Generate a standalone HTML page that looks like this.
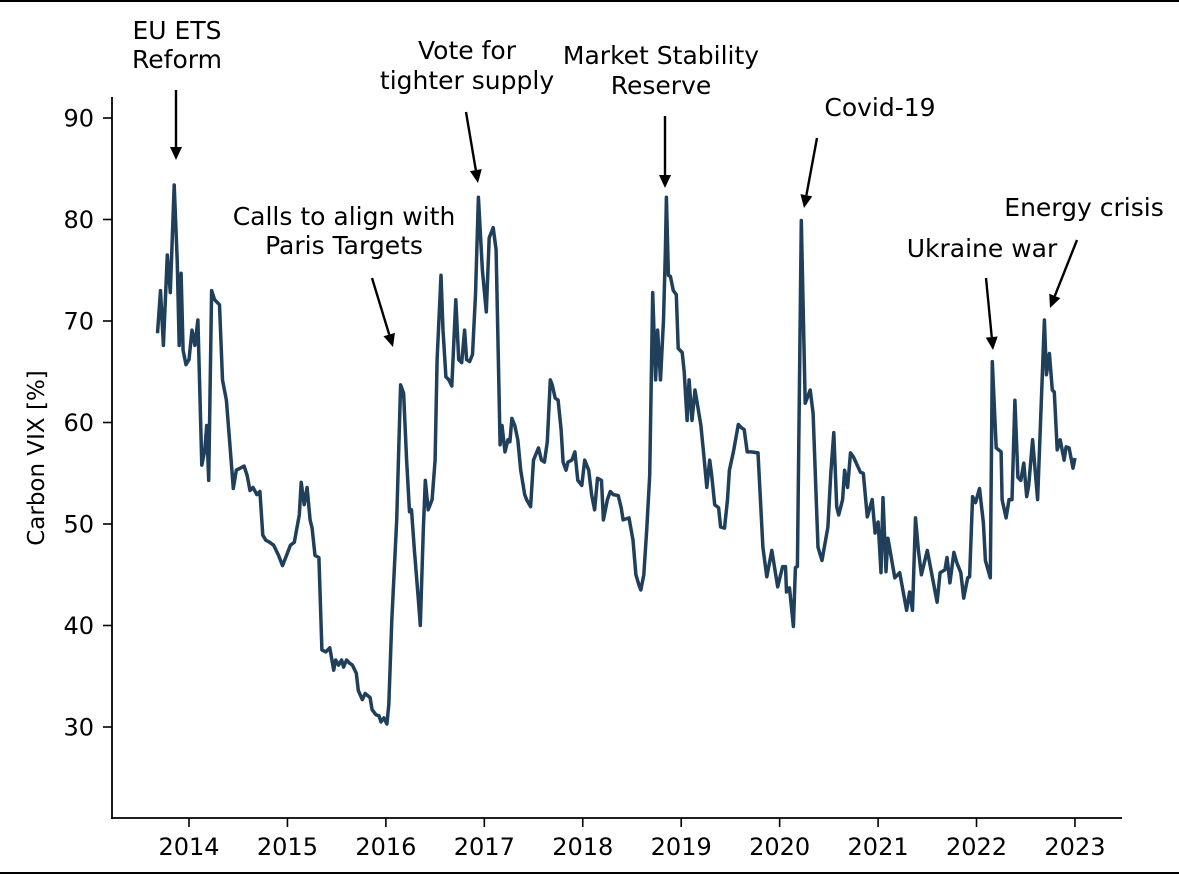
<!DOCTYPE html>
<html><head><meta charset="utf-8"><style>
html,body{margin:0;padding:0;background:#fff;}
svg{display:block;font-family:"DejaVu Sans","Liberation Sans",sans-serif;}
</style></head><body>
<svg id="chart" width="1179" height="875" viewBox="0 0 1179 875">
<line x1="0" y1="1" x2="1179" y2="1" stroke="#000" stroke-width="2"/>
<line x1="0" y1="873" x2="1179" y2="873" stroke="#000" stroke-width="2"/>
<g id="axes"></g>
<g id="series"></g>
<g id="annot"></g>
</svg>
<script>
const dates=[2013.68,2013.71,2013.74,2013.78,2013.81,2013.85,2013.88,2013.90,2013.92,2013.94,2013.97,2014.00,2014.03,2014.06,2014.09,2014.13,2014.16,2014.18,2014.20,2014.23,2014.26,2014.31,2014.34,2014.38,2014.42,2014.45,2014.48,2014.52,2014.56,2014.59,2014.62,2014.65,2014.69,2014.72,2014.75,2014.78,2014.82,2014.86,2014.91,2014.95,2014.99,2015.03,2015.07,2015.12,2015.14,2015.17,2015.20,2015.23,2015.25,2015.28,2015.32,2015.35,2015.39,2015.43,2015.47,2015.49,2015.52,2015.55,2015.57,2015.60,2015.63,2015.66,2015.70,2015.72,2015.76,2015.79,2015.84,2015.86,2015.90,2015.93,2015.95,2015.98,2016.01,2016.03,2016.06,2016.11,2016.15,2016.18,2016.21,2016.24,2016.26,2016.29,2016.33,2016.35,2016.38,2016.40,2016.43,2016.47,2016.50,2016.52,2016.56,2016.58,2016.61,2016.64,2016.67,2016.71,2016.74,2016.77,2016.80,2016.82,2016.85,2016.88,2016.91,2016.94,2016.98,2017.02,2017.05,2017.09,2017.12,2017.16,2017.18,2017.21,2017.24,2017.26,2017.28,2017.31,2017.34,2017.37,2017.41,2017.43,2017.47,2017.50,2017.55,2017.58,2017.61,2017.64,2017.67,2017.69,2017.72,2017.75,2017.78,2017.80,2017.83,2017.85,2017.89,2017.92,2017.95,2017.99,2018.02,2018.06,2018.09,2018.12,2018.15,2018.19,2018.21,2018.25,2018.28,2018.31,2018.36,2018.39,2018.41,2018.47,2018.51,2018.54,2018.57,2018.59,2018.62,2018.65,2018.68,2018.71,2018.74,2018.76,2018.79,2018.82,2018.84,2018.85,2018.87,2018.89,2018.92,2018.95,2018.97,2019.01,2019.03,2019.06,2019.08,2019.11,2019.14,2019.17,2019.20,2019.23,2019.26,2019.29,2019.31,2019.34,2019.38,2019.40,2019.44,2019.47,2019.49,2019.53,2019.58,2019.61,2019.64,2019.67,2019.71,2019.78,2019.83,2019.87,2019.92,2019.98,2020.03,2020.06,2020.07,2020.10,2020.14,2020.16,2020.18,2020.22,2020.26,2020.31,2020.34,2020.39,2020.43,2020.49,2020.52,2020.55,2020.58,2020.60,2020.64,2020.66,2020.69,2020.72,2020.75,2020.82,2020.85,2020.89,2020.94,2020.97,2021.00,2021.03,2021.05,2021.08,2021.10,2021.17,2021.22,2021.29,2021.32,2021.35,2021.38,2021.41,2021.44,2021.50,2021.60,2021.63,2021.68,2021.70,2021.73,2021.77,2021.80,2021.84,2021.87,2021.91,2021.93,2021.96,2021.99,2022.03,2022.07,2022.09,2022.14,2022.16,2022.20,2022.25,2022.26,2022.30,2022.33,2022.36,2022.39,2022.42,2022.45,2022.48,2022.51,2022.53,2022.57,2022.62,2022.69,2022.71,2022.74,2022.77,2022.79,2022.82,2022.85,2022.89,2022.91,2022.94,2022.98,2023.00];
const vix=[68.8,73.0,67.6,76.5,72.8,83.4,76.0,67.6,74.7,67.1,65.7,66.2,69.1,67.6,70.1,55.8,57.3,59.7,54.3,73.0,72.1,71.6,64.2,62.2,57.3,53.5,55.3,55.5,55.7,54.8,53.3,53.6,52.9,53.2,48.9,48.4,48.2,47.9,46.9,45.9,46.9,47.9,48.2,50.9,54.1,51.9,53.6,50.4,49.6,46.9,46.7,37.6,37.4,37.8,35.6,36.6,36.1,36.6,35.9,36.6,36.3,36.1,35.3,33.6,32.7,33.3,32.9,31.7,31.2,31.1,30.5,30.9,30.3,32.2,40.5,50.4,63.7,62.9,56.3,51.2,51.4,47.4,42.5,40.0,49.4,54.3,51.4,52.4,56.3,66.2,74.5,69.1,64.5,64.2,63.6,72.1,66.2,65.9,69.1,66.2,66.0,66.7,72.6,82.2,75.0,70.9,78.2,79.2,77.0,57.8,59.7,57.1,58.3,58.1,60.4,59.7,58.3,55.3,52.9,52.4,51.7,56.3,57.5,56.3,56.1,58.1,64.2,63.7,62.4,62.2,59.3,56.1,55.3,56.1,56.3,57.1,54.3,53.8,56.3,55.3,52.9,51.4,54.5,54.3,50.4,52.4,53.2,52.9,52.8,51.6,50.4,50.6,48.4,45.0,44.0,43.5,45.0,49.4,54.8,72.8,64.2,69.1,64.2,70.1,77.0,82.2,74.5,74.4,73.0,72.6,67.3,66.9,65.0,60.2,64.2,60.2,63.2,61.5,59.7,56.8,53.6,56.3,54.8,51.9,51.6,49.7,49.6,52.4,55.3,57.1,59.8,59.5,59.3,57.1,57.1,57.0,47.7,44.8,47.4,43.8,45.8,45.8,43.3,43.7,39.9,45.7,45.8,79.9,61.9,63.2,60.9,47.7,46.4,49.7,55.0,59.0,51.7,50.9,52.4,55.3,53.6,57.0,56.6,55.1,55.0,50.7,52.4,49.1,50.2,45.2,52.6,45.3,48.6,44.7,45.2,41.5,43.3,41.5,50.6,47.4,45.0,47.4,42.3,45.2,45.5,46.7,44.2,47.2,46.2,45.2,42.7,44.7,44.8,52.7,52.1,53.5,50.1,46.4,44.7,66.0,57.5,57.1,52.4,50.6,52.4,52.4,62.2,54.6,54.3,56.0,52.7,53.8,58.3,52.4,70.1,64.7,66.8,63.2,63.0,57.3,58.3,56.3,57.6,57.5,55.5,56.5];
const yTicks=[30,40,50,60,70,80,90];
const xTicks=[2014,2015,2016,2017,2018,2019,2020,2021,2022,2023];
const annotations=[
 {label:["EU ETS","Reform"],tx:177,ty:[39,68],ax1:176,ay1:90,ax2:176,ay2:160},
 {label:["Calls to align with","Paris Targets"],tx:344,ty:[225,254],ax1:372,ay1:278,ax2:393,ay2:347},
 {label:["Vote for","tighter supply"],tx:467,ty:[59,89],ax1:466,ay1:112,ax2:478,ay2:183},
 {label:["Market Stability","Reserve"],tx:661,ty:[64,94],ax1:665,ay1:116,ax2:665,ay2:188},
 {label:["Covid-19"],tx:880,ty:[116],ax1:817,ay1:138,ax2:804,ay2:208},
 {label:["Ukraine war"],tx:982,ty:[257],ax1:986,ay1:278,ax2:993,ay2:350},
 {label:["Energy crisis"],tx:1084,ty:[216],ax1:1077,ay1:240,ax2:1050,ay2:308}
];
const NS="http://www.w3.org/2000/svg";
function xS(t){return 189+(t-2014)*98.44;}
function yS(v){return 727-(v-30)*10.15;}
function mk(tag,attrs,parent){const e=document.createElementNS(NS,tag);for(const k in attrs)e.setAttribute(k,attrs[k]);parent.appendChild(e);return e;}
const axes=document.getElementById('axes');
let e=mk('line',{x1:112,y1:97,x2:112,y2:819,stroke:'#000','stroke-width':1.8},axes);


e=mk('line',{x1:111,y1:818,x2:1122,y2:818,stroke:'#000','stroke-width':1.8},axes);


yTicks.forEach(v=>{
 const y=yS(v);
 let t=mk('line',{x1:103,y1:y,x2:112,y2:y,stroke:'#000','stroke-width':1.6},axes);
 
 
 let l=mk('text',{x:94,y:y+8.5,'text-anchor':'end','font-size':24,fill:'#000'},axes);
 l.textContent=v;
 
 
});
xTicks.forEach(v=>{
 const x=xS(v);
 let t=mk('line',{x1:x,y1:818,x2:x,y2:827,stroke:'#000','stroke-width':1.6},axes);
 
 
 let l=mk('text',{x:x,y:855,'text-anchor':'middle','font-size':24,fill:'#000'},axes);
 l.textContent=v;
 
 
});
let yl=mk('text',{x:0,y:0,transform:'translate(44,458) rotate(-90)','text-anchor':'middle','font-size':23,fill:'#000'},axes);
yl.textContent='Carbon VIX [%]';


const series=document.getElementById('series');
let d='';
dates.forEach((t,i)=>{d+=(i?'L':'M')+xS(t).toFixed(1)+','+yS(vix[i]).toFixed(1);});
let p=mk('path',{d:d,fill:'none',stroke:'#1f3f5b','stroke-width':3.5,'stroke-linejoin':'round'},series);


const an=document.getElementById('annot');
annotations.forEach(a=>{
 a.label.forEach((s,i)=>{
  let t=mk('text',{x:a.tx,y:a.ty[i],'text-anchor':'middle','font-size':25,fill:'#000'},an);
  t.textContent=s;
  
  
 });
 const dx=a.ax2-a.ax1,dy=a.ay2-a.ay1,L=Math.hypot(dx,dy),ux=dx/L,uy=dy/L;
 const bx=a.ax2-ux*13,by=a.ay2-uy*13;
 let ln=mk('line',{x1:a.ax1,y1:a.ay1,x2:bx,y2:by,stroke:'#000','stroke-width':2.4},an);
 
 
 let hd=mk('polygon',{points:`${a.ax2},${a.ay2} ${bx-uy*6},${by+ux*6} ${bx+uy*6},${by-ux*6}`,fill:'#000'},an);
 
 
});
</script>
</body></html>
